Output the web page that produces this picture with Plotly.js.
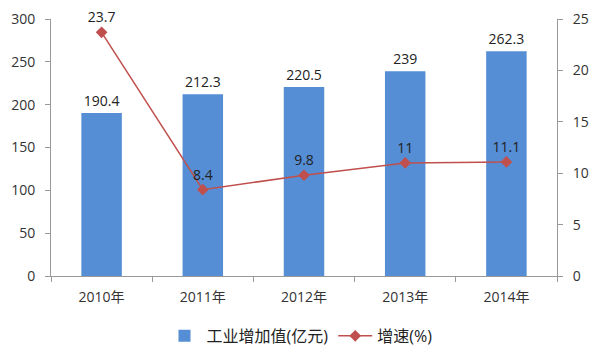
<!DOCTYPE html>
<html><head><meta charset="utf-8">
<script src="https://cdn.plot.ly/plotly-3.0.1.min.js"></script>
<style>html,body{margin:0;padding:0;background:#fff}#c{width:600px;height:360px}</style>
</head><body><div id="c"></div>
<script>
const categories = ['2010年','2011年','2012年','2013年','2014年'];
const valueAdded = [190.4, 212.3, 220.5, 239, 262.3];
const growth = [23.7, 8.4, 9.8, 11, 11.1];
const barName = '工业增加值(亿元)';
const lineName = '增速(%)';
const FONT = 'Open Sans, Noto Sans CJK SC, sans-serif';

const traces = [
  {type:'bar', x:categories, y:valueAdded, name:barName, width:0.4,
   marker:{color:'#558ED5'}, text:valueAdded.map(String), textposition:'outside',
   textfont:{size:14, color:'#222', family:FONT}, cliponaxis:false},
  {type:'scatter', mode:'lines+markers+text', x:categories, y:growth, yaxis:'y2', name:lineName,
   line:{color:'#C0504D', width:1.5}, marker:{symbol:'diamond', size:9, color:'#C0504D'},
   text:growth.map(String), textposition:'top center', textfont:{size:14, color:'#222', family:FONT}, cliponaxis:false}
];
const layout = {
  width:600, height:360, margin:{l:51, r:43, t:19, b:84, autoexpand:false},
  paper_bgcolor:'#fff', plot_bgcolor:'#fff', showlegend:true,
  font:{family:FONT, size:14, color:'#333'},
  bargap:0.6,
  xaxis:{type:'category', showline:true, linecolor:'#999', linewidth:1, ticks:'outside', tickson:'boundaries',
         ticklen:5, tickcolor:'#999', showgrid:false, ticklabelstandoff:8, tickfont:{size:14, color:'#333'}},
  yaxis:{range:[0,300], dtick:50, showline:true, linecolor:'#999', ticks:'outside', ticklen:5, tickcolor:'#999',
         showgrid:false, zeroline:false, ticklabelstandoff:7, tickfont:{size:14, color:'#333'}},
  yaxis2:{range:[0,25], dtick:5, overlaying:'y', side:'right', showline:true, linecolor:'#999', ticks:'outside',
          ticklen:5, tickcolor:'#999', showgrid:false, zeroline:false, ticklabelstandoff:7, tickfont:{size:14, color:'#333'}},
  legend:{orientation:'h', x:0.5, xref:'container', xanchor:'center', y:0.067, yref:'container', yanchor:'middle',
          font:{size:16, color:'#222'}, itemwidth:34}
};
Plotly.newPlot('c', traces, layout, {staticPlot:true});
</script></body></html>
